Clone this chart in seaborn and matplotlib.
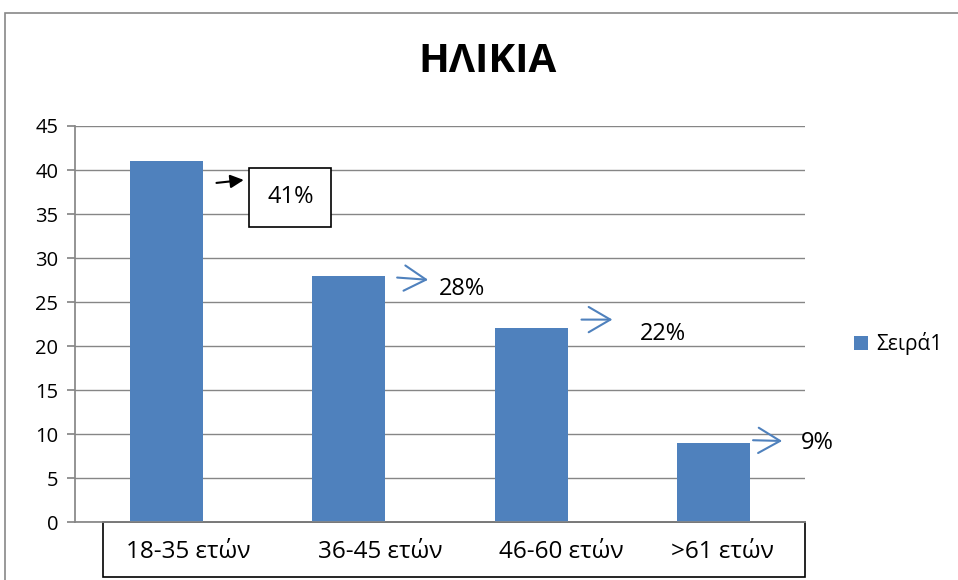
"""age distribution bar chart"""

import pandas as pd
import matplotlib.pyplot as plt
import seaborn as sns
from matplotlib.patches import Rectangle
from matplotlib.transforms import ScaledTranslation

categories = ["18-35 ετών", "36-45 ετών", "46-60 ετών", ">61 ετών"]
values = [41, 28, 22, 9]
labels = ["41%", "28%", "22%", "9%"]
series_name = "Σειρά1"

# label offsets from the top of each bar: (arrow start, arrow end, text)
arrow_start = [(0.26, -2.5), (0.25, -0.2), (0.26, 1.0), (0.2, 0.3)]
arrow_end = [(0.44, -2.1), (0.45, -0.5), (0.46, 1.0), (0.39, 0.2)]
text_pos = [(0.68, -4.1), (0.62, -1.5), (0.72, -0.6), (0.57, 0.0)]
# category labels sit a bit right of the bars in the label box (points)
label_shift = [16, 23, 22, 6]

BLUE = "#4F81BD"
GRID = "#868686"

sns.set_theme(style="white")
plt.rcParams["font.family"] = ["Open Sans", "DejaVu Sans"]
plt.rcParams["text.color"] = "black"

df = pd.DataFrame({"Ηλικία": categories, "Τιμή": values, "Σειρά": series_name})

fig = plt.figure(figsize=(9.58, 5.8), dpi=100)
ax = fig.add_axes([75 / 958, 1 - 522 / 580, 730 / 958, 396 / 580])

sns.barplot(data=df, x="Ηλικία", y="Τιμή", hue="Σειρά", palette=[BLUE],
            width=0.4, ax=ax, saturation=1, legend=True, linewidth=0)

ax.set_ylim(0, 45)
ax.set_xlim(-0.5, 3.5)
ax.set_yticks(range(0, 46, 5))
ax.yaxis.grid(True, color=GRID, lw=1)
ax.set_axisbelow(True)
ax.set_xlabel("")
ax.set_ylabel("")
for side in ["top", "right"]:
    ax.spines[side].set_visible(False)
ax.spines["left"].set_color(GRID)
ax.spines["bottom"].set_color(GRID)
ax.tick_params(axis="y", left=True, length=6, color=GRID, labelsize=14.5,
               pad=6, labelcolor="black")
ax.tick_params(axis="x", bottom=False, labelsize=17.5, pad=7, labelcolor="black")
for lbl, dx in zip(ax.get_xticklabels(), label_shift):
    lbl.set_transform(lbl.get_transform() +
                      ScaledTranslation(dx / 72, 0, fig.dpi_scale_trans))

# box around category labels
ax.add_patch(Rectangle((28 / 730, -55 / 396), 702 / 730, 55 / 396,
                       transform=ax.transAxes, fill=False,
                       edgecolor="black", lw=1.2, clip_on=False, zorder=0.2))

for i, (v, lab) in enumerate(zip(values, labels)):
    sx, sy = arrow_start[i]
    ex, ey = arrow_end[i]
    tx, ty = text_pos[i]
    if i == 0:
        ax.annotate("", xy=(i + ex, v + ey), xytext=(i + sx, v + sy),
                    arrowprops=dict(arrowstyle="-|>", color="black", lw=1.5,
                                    mutation_scale=20))
        ax.text(i + tx, v + ty, lab, ha="center", va="center", fontsize=17,
                bbox=dict(boxstyle="square,pad=0.75", facecolor="white",
                          edgecolor="black", lw=1.2))
    else:
        ax.annotate("", xy=(i + ex, v + ey), xytext=(i + sx, v + sy),
                    arrowprops=dict(arrowstyle="->,head_length=0.6,head_width=0.35",
                                    color=BLUE, lw=1.5, mutation_scale=26))
        ax.text(i + tx, v + ty, lab, ha="center", va="center", fontsize=17)

ax.legend(loc="center left", bbox_to_anchor=(760 / 730, 0.45),
          frameon=False, fontsize=15, handlelength=0.7, handleheight=0.7,
          handletextpad=0.4)

fig.text(487 / 958, 1 - 62 / 580, "ΗΛΙΚΙΑ", ha="center", va="center",
         fontsize=29, fontweight="bold")

fig.patches.append(Rectangle((5 / 958, -0.1), 1.1, 1.1 - 13 / 580,
                             transform=fig.transFigure, fill=False,
                             edgecolor="#878787", lw=1.2))

fig.savefig("out.png", dpi=100)
plt.close(fig)
